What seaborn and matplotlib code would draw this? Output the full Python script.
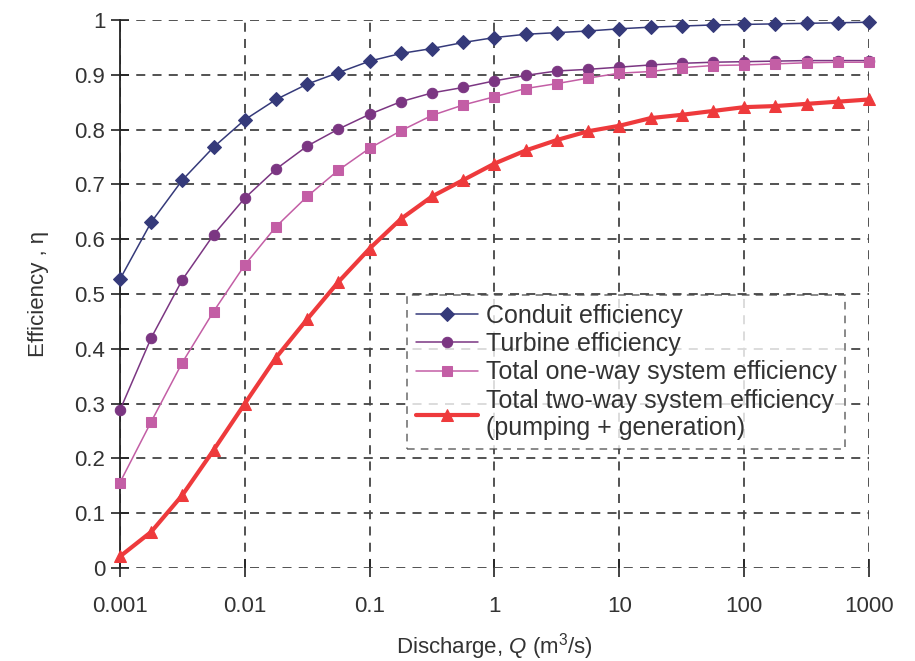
import numpy as np
import pandas as pd
import matplotlib
matplotlib.use("Agg")
import matplotlib.pyplot as plt
import seaborn as sns

# ---- data ----
discharge = [0.001, 0.00178, 0.00316, 0.00562, 0.01, 0.0178, 0.0316, 0.0562,
             0.1, 0.178, 0.316, 0.562, 1, 1.78, 3.16, 5.62, 10, 17.8, 31.6,
             56.2, 100, 178, 316, 562, 1000]
conduit = [0.527, 0.631, 0.708, 0.768, 0.818, 0.855, 0.883, 0.904, 0.925,
           0.939, 0.948, 0.959, 0.968, 0.974, 0.977, 0.980, 0.984, 0.987,
           0.989, 0.991, 0.992, 0.993, 0.994, 0.995, 0.996]
turbine = [0.288, 0.420, 0.526, 0.608, 0.675, 0.728, 0.770, 0.801, 0.828,
           0.851, 0.867, 0.877, 0.889, 0.899, 0.907, 0.910, 0.914, 0.918,
           0.921, 0.923, 0.924, 0.925, 0.926, 0.926, 0.926]
one_way = [0.156, 0.267, 0.375, 0.468, 0.553, 0.623, 0.678, 0.726, 0.766,
           0.798, 0.826, 0.845, 0.860, 0.875, 0.884, 0.894, 0.903, 0.906,
           0.913, 0.917, 0.918, 0.920, 0.922, 0.923, 0.923]
two_way = [0.021, 0.066, 0.133, 0.215, 0.300, 0.384, 0.454, 0.522, 0.583,
           0.637, 0.678, 0.708, 0.738, 0.762, 0.781, 0.797, 0.807, 0.821,
           0.827, 0.834, 0.841, 0.843, 0.847, 0.851, 0.855]
series_names = ["Conduit efficiency", "Turbine efficiency",
                "Total one-way system efficiency",
                "Total two-way system efficiency\n(pumping + generation)"]
x_ticks = [0.001, 0.01, 0.1, 1, 10, 100, 1000]
x_tick_labels = ["0.001", "0.01", "0.1", "1", "10", "100", "1000"]
y_ticks = [0, 0.1, 0.2, 0.3, 0.4, 0.5, 0.6, 0.7, 0.8, 0.9, 1]
y_tick_labels = ["0", "0.1", "0.2", "0.3", "0.4", "0.5", "0.6", "0.7", "0.8", "0.9", "1"]

sns.set_style("white")
plt.rcParams['font.family'] = ['Liberation Sans', 'DejaVu Sans']
plt.rcParams['mathtext.fontset'] = 'custom'
plt.rcParams['mathtext.rm'] = 'Liberation Sans'
plt.rcParams['mathtext.it'] = 'Liberation Sans:italic'

df = pd.DataFrame({
    "Q": discharge * 4,
    "eta": conduit + turbine + one_way + two_way,
    "series": sum([[n] * len(discharge) for n in series_names], []),
})

colors = ["#353a7a", "#7b3682", "#c35ea5", "#ee3a3c"]
markers = ["D", "o", "s", "^"]
msizes = [7, 7.5, 7, 8.5]
lws = [1.1, 1.1, 1.1, 3.0]

fig = plt.figure(figsize=(9.15, 6.61), dpi=100)
ax = fig.add_axes([0.1311, 0.1407, 0.8186, 0.829])

for name, c, m, ms, lw in zip(series_names, colors, markers, msizes, lws):
    sub = df[df["series"] == name]
    sns.lineplot(data=sub, x="Q", y="eta", ax=ax, color=c, marker=m,
                 markersize=ms, linewidth=lw, markeredgecolor=c,
                 label=name, clip_on=False, zorder=3)

ax.set_xscale("log")
ax.set_xlim(0.001, 1000)
ax.set_ylim(0, 1)
ax.set_xticks(x_ticks)
ax.set_xticklabels(x_tick_labels)
ax.set_yticks(y_ticks)
ax.set_yticklabels(y_tick_labels)
ax.xaxis.set_minor_locator(matplotlib.ticker.NullLocator())

ax.grid(True, which="major", color="#444444", linestyle=(0, (5, 4)), linewidth=1.3)
ax.set_axisbelow(True)
for s in ["top", "right", "bottom"]:
    ax.spines[s].set_visible(False)
ax.spines["left"].set_color("#222222")
ax.spines["left"].set_linewidth(1.3)

ax.tick_params(axis="both", direction="inout", length=13, width=1.2,
               color="#222222", labelsize=16, labelcolor="#333333")
ax.tick_params(axis="x", pad=14, bottom=True)
ax.tick_params(axis="y", pad=4, left=True)

ax.set_xlabel(r"Discharge, $\mathit{Q}$ (m$^3$/s)", fontsize=16, color="#333333", labelpad=10)
ax.set_ylabel("Efficiency , η", fontsize=16, color="#333333", labelpad=18)

leg = ax.legend(loc="upper left", bbox_to_anchor=(0.383, 0.498), borderaxespad=0,
                fontsize=18, frameon=True, fancybox=False, handlelength=2.5,
                handletextpad=0.3, labelspacing=0.17, borderpad=0.35)
frame = leg.get_frame()
frame.set_edgecolor("#444444")
frame.set_linestyle((0, (5, 4)))
frame.set_linewidth(1.1)
for t in leg.get_texts():
    t.set_color("#333333")

fig.savefig("out.png", dpi=100)
